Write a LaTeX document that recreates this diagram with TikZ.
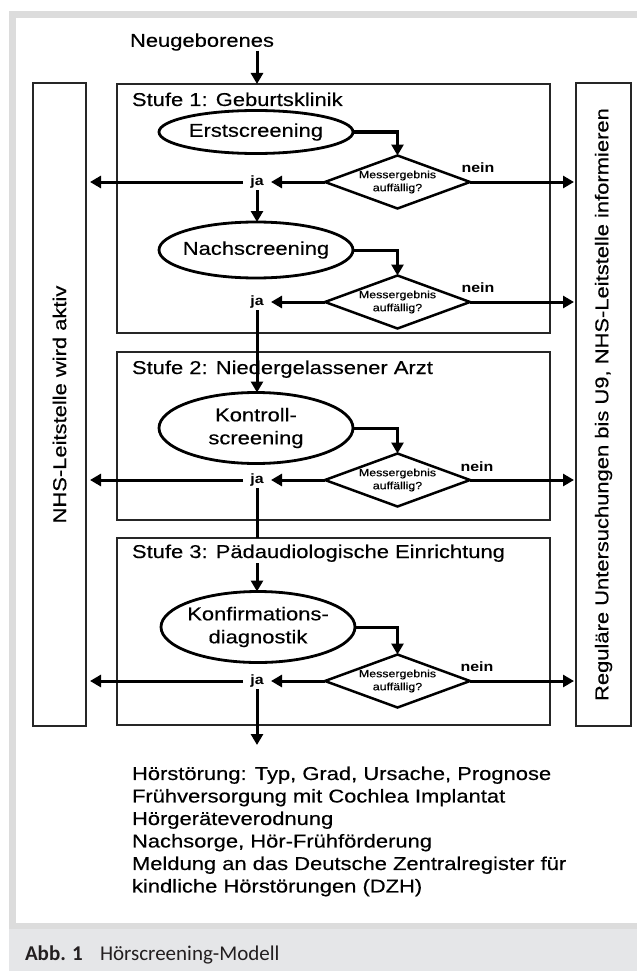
\documentclass[tikz,border=0pt]{standalone}
\usepackage{fontspec}
\setmainfont[FakeStretch=1.18, UprightFeatures={FakeBold=0.35}]{Liberation Sans}
\newfontfamily\capfont{Carlito}
\usetikzlibrary{arrows.meta,shapes.geometric}
\definecolor{framegrey}{HTML}{DCDCDC}
\definecolor{capgrey}{HTML}{E5E6E8}
\definecolor{captext}{HTML}{231F20}
\begin{document}
\begin{tikzpicture}[x=1pt,y=-1pt,
  every node/.style={inner sep=0pt,outer sep=0pt},
  txt/.style={font=\fontsize{18.6}{23}\selectfont},
  dtext/.style={font=\fontsize{10.5}{13}\selectfont, align=center},
  lbl/.style={font=\bfseries\fontsize{13.5}{15}\selectfont},
  jalbl/.style={lbl, minimum width=28pt, minimum height=16pt},
  framebox/.style={draw=black!85, line width=1.4pt},
  oval/.style={draw, ellipse, line width=2.8pt, minimum width=194pt},
  decide/.style={draw, diamond, line width=2.5pt, minimum width=145pt, minimum height=53pt, shape aspect=2.74, dtext},
  arr/.style={line width=3pt, -{Triangle[length=11pt,width=12pt]}},
  flow/.style={line width=3pt},
]
\path[use as bounding box] (0,0) rectangle (637,971);
% frame
\fill[framegrey] (9,11) rectangle (637,929);
\fill[white] (16,18) rectangle (637,923);
\fill[capgrey] (9,929) rectangle (637,971);

% side boxes and stage boxes
\node[framebox, minimum width=53pt, minimum height=643pt] (lbox) at (59.5,404.5) {};
\node[framebox, minimum width=55pt, minimum height=643pt] (rbox) at (603.5,404.5) {};
\node[txt, rotate=90] (ltext) at (lbox.center) {NHS-Leitstelle wird aktiv};
\node[txt, rotate=90] (rtext) at (rbox.center) {Reguläre Untersuchungen bis U9, NHS-Leitstelle informieren};

\node[framebox, minimum width=433pt, minimum height=249pt] (s1) at (333.5,208.5) {};
\node[framebox, minimum width=433pt, minimum height=168pt] (s2) at (333.5,436) {};
\node[framebox, minimum width=433pt, minimum height=187pt] (s3) at (333.5,631.5) {};

\node[txt, anchor=base west] (t1) at (132,106) {Stufe 1: Geburtsklinik};
\node[txt, anchor=base west] (t2) at (132,374) {Stufe 2: Niedergelassener Arzt};
\node[txt, anchor=base west] (t3) at (132,558) {Stufe 3: Pädaudiologische Einrichtung};

\node[txt] (neu) at (202,42) {Neugeborenes};

% ellipses
\node[oval, minimum height=43pt] (e1) at (256,132) {};
\node[txt] (e1t) at (e1.center) {Erstscreening};
\node[oval, minimum height=56pt] (e2) at (256,250) {};
\node[txt] (e2t) at (e2.center) {Nachscreening};
\node[oval, minimum height=71pt] (e3) at (256,428) {};
\node[txt, align=center] (e3t) at (e3.center) {Kontroll-\\screening};
\node[oval, minimum height=71pt] (e4) at (258,627) {};
\node[txt, align=center] (e4t) at (e4.center) {Konfirmations-\\diagnostik};

% decisions
\node[decide] (d1) at (397.5,182) {Messergebnis\\auffällig?};
\node[decide] (d2) at (397.5,302) {Messergebnis\\auffällig?};
\node[decide] (d3) at (397.5,480) {Messergebnis\\auffällig?};
\node[decide] (d4) at (397.5,681) {Messergebnis\\auffällig?};

% ja / nein labels
\node[jalbl] (ja1) at (257,182) {ja};
\node[jalbl] (ja2) at (257,302) {ja};
\node[jalbl] (ja3) at (257,480) {ja};
\node[jalbl] (ja4) at (257,681) {ja};
\node[lbl] (n1) at (478,168) {nein};
\node[lbl] (n2) at (478,288) {nein};
\node[lbl] (n3) at (477,467) {nein};
\node[lbl] (n4) at (477,667) {nein};

\coordinate (s3in) at (257,563);
\coordinate (out) at (257,745);

% connectors
\draw[arr] (neu.south -| ja1) -- (s1.north -| ja1);
\draw[arr] (e1.east) -| (d1.north);
\draw[arr] (e2.east) -| (d2.north);
\draw[arr] (e3.east) -| (d3.north);
\draw[arr] (e4.east) -| (d4.north);

\draw[arr, shorten >=2pt] (d1.east) -- (d1.east -| rbox.west);
\draw[arr, shorten >=2pt] (d2.east) -- (d2.east -| rbox.west);
\draw[arr, shorten >=2pt] (d3.east) -- (d3.east -| rbox.west);
\draw[arr, shorten >=2pt] (d4.east) -- (d4.east -| rbox.west);

\draw[arr] (d1.west) -- (ja1.east);
\draw[arr] (d2.west) -- (ja2.east);
\draw[arr] (d3.west) -- (ja3.east);
\draw[arr] (d4.west) -- (ja4.east);

\draw[arr, shorten >=4pt] (ja1.west) -- (ja1.west -| lbox.east);
\draw[arr, shorten >=4pt] (ja3.west) -- (ja3.west -| lbox.east);
\draw[arr, shorten >=4pt] (ja4.west) -- (ja4.west -| lbox.east);

\draw[arr] (ja1.south) -- (ja1.south |- e2.north);
\draw[arr] (ja2.south) -- (ja2.south |- e3.north);
\draw[flow] (ja3.south) -- (ja3.south |- s3.north);
\draw[arr] (s3in) -- (s3in |- e4.north);
\draw[arr] (ja4.south) -- (out);

% result text
\node[txt, anchor=north west, align=left, font=\fontsize{18.6}{22.5}\selectfont] (res) at (132,766.5)
 {Hörstörung: Typ, Grad, Ursache, Prognose\\
  Frühversorgung mit Cochlea Implantat\\
  Hörgeräteverodnung\\
  Nachsorge, Hör-Frühförderung\\
  Meldung an das Deutsche Zentralregister für\\
  kindliche Hörstörungen (DZH)};

% caption
\node[anchor=base west, font=\capfont\bfseries\fontsize{21}{24}\selectfont, text=captext] (abb) at (25,960) {Abb. 1};
\node[anchor=base west, font=\capfont\fontsize{21}{24}\selectfont, text=captext] (capt) at (100,960) {Hörscreening-Modell};
\end{tikzpicture}
\end{document}
